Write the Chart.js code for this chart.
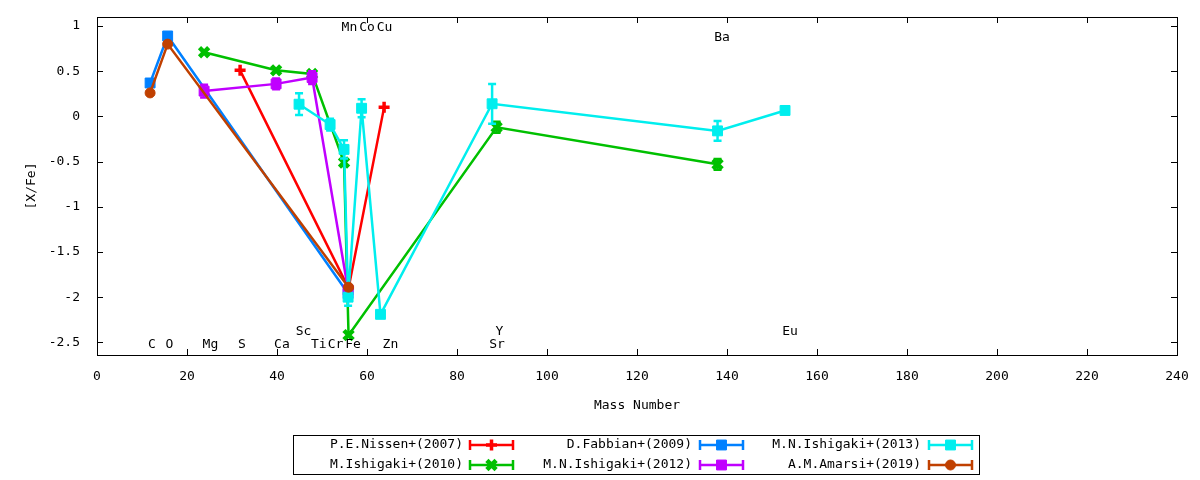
<!DOCTYPE html>
<html>
<head>
<meta charset="utf-8">
<script src="https://cdn.jsdelivr.net/npm/chart.js@4.4.0/dist/chart.umd.min.js"></script>
<style>
  html, body { margin: 0; padding: 0; background: #fff; }
  #wrap { width: 1200px; height: 480px; }
</style>
</head>
<body>
<div id="wrap"><canvas id="chart" width="1200" height="480"></canvas></div>
<script>
// mass number / [X/Fe] / error
const nissenX = [31.8, 55.9, 63.8]
const nissenY = [0.51, -1.90, 0.10]

const ishigaki10X = [23.8, 39.8, 47.8, 54.9, 55.9, 88.8, 137.9]
const ishigaki10Y = [0.71, 0.51, 0.47, -0.51, -2.42, -0.12, -0.53]
const ishigaki10Err = [0, 0, 0, 0.04, 0, 0.06, 0.06]

const fabbianX = [11.8, 15.7, 55.8]
const fabbianY = [0.37, 0.89, -1.96]

const ishigaki12X = [23.8, 39.8, 47.8, 55.8]
const ishigaki12Y = [0.28, 0.36, 0.43, -1.92]
const ishigaki12Err = [0.07, 0.06, 0.07, 0]

const ishigaki13X = [44.9, 51.8, 54.9, 55.8, 58.8, 63.0, 87.8, 137.9, 152.9]
const ishigaki13Y = [0.135, -0.09, -0.365, -2.0, 0.09, -2.19, 0.14, -0.16, 0.066]
const ishigaki13Err = [0.12, 0.065, 0.10, 0.095, 0.10, 0, 0.22, 0.11, 0]

const amarsiX = [11.8, 15.7, 55.9]
const amarsiY = [0.26, 0.80, -1.89]

// element names written inside the plot
const elemNames = ['Mn', 'Co', 'Cu', 'Ba', 'Sc', 'Y', 'Eu', 'C', 'O', 'Mg', 'S', 'Ca', 'Ti', 'Cr', 'Fe', 'Zn', 'Sr']
const elemX = [56.1, 60.0, 63.9, 138.9, 45.9, 89.4, 154.0, 12.2, 16.1, 25.2, 32.2, 41.1, 49.3, 53.0, 56.9, 65.2, 88.9]
const elemY = [0.985, 0.985, 0.985, 0.874, -2.38, -2.38, -2.38, -2.53, -2.53, -2.53, -2.53, -2.53, -2.53, -2.53, -2.53, -2.53, -2.53]

const FAMILY = "'DejaVu Sans Mono', monospace"
const FONT = "13px " + FAMILY

const pts = (xs, ys) => xs.map((x, i) => ({x: x, y: ys[i]}))

function series(label, color, xs, ys, errs, style, radius, bw, order) {
    return {
        label: label,
        data: pts(xs, ys),
        errors: errs,
        borderColor: color,
        backgroundColor: color,
        borderWidth: 2.5,
        pointStyle: style,
        pointRadius: radius,
        pointBorderWidth: bw,
        pointBackgroundColor: color,
        pointBorderColor: color,
        showLine: true,
        order: order
    }
}

const datasets = [
    series('P.E.Nissen+(2007)', '#ff0000', nissenX, nissenY, null, 'cross', 5.5, 3.5, 5),
    series('M.Ishigaki+(2010)', '#00c000', ishigaki10X, ishigaki10Y, ishigaki10Err, 'crossRot', 6.5, 4.5, 4),
    series('D.Fabbian+(2009)', '#0080ff', fabbianX, fabbianY, null, 'rect', 7, 1, 3),
    series('M.N.Ishigaki+(2012)', '#c000ff', ishigaki12X, ishigaki12Y, ishigaki12Err, 'rect', 7, 1, 2),
    series('M.N.Ishigaki+(2013)', '#00eeee', ishigaki13X, ishigaki13Y, ishigaki13Err, 'rect', 7, 1, 1),
    series('A.M.Amarsi+(2019)', '#c04000', amarsiX, amarsiY, null, 'circle', 5, 1, 0)
]

// vertical error bars with caps
const errorBars = {
    id: 'errorBars',
    afterDatasetDraw(chart, args) {
        const ds = chart.data.datasets[args.index]
        if (!ds.errors) return
        const ctx = chart.ctx
        const ys = chart.scales.y
        ctx.save()
        ctx.strokeStyle = ds.borderColor
        ctx.lineWidth = 2.5
        args.meta.data.forEach((p, i) => {
            const e = ds.errors[i]
            if (!e) return
            const v = ds.data[i].y
            const t = ys.getPixelForValue(v + e)
            const b = ys.getPixelForValue(v - e)
            ctx.beginPath()
            ctx.moveTo(p.x, t); ctx.lineTo(p.x, b)
            ctx.moveTo(p.x - 4, t); ctx.lineTo(p.x + 4, t)
            ctx.moveTo(p.x - 4, b); ctx.lineTo(p.x + 4, b)
            ctx.stroke()
        })
        ctx.restore()
    }
}

// frame, inward ticks, element names, legend box
const decorations = {
    id: 'decorations',
    afterDraw(chart) {
        const ctx = chart.ctx
        const a = chart.chartArea
        const xs = chart.scales.x, ys = chart.scales.y
        ctx.save()
        ctx.strokeStyle = '#000'
        ctx.lineWidth = 1
        ctx.strokeRect(a.left + 0.5, a.top + 0.5, a.right - a.left, a.bottom - a.top)
        ctx.beginPath()
        xs.ticks.forEach(t => {
            const px = Math.round(xs.getPixelForValue(t.value)) + 0.5
            ctx.moveTo(px, a.bottom); ctx.lineTo(px, a.bottom - 6)
            ctx.moveTo(px, a.top); ctx.lineTo(px, a.top + 6)
        })
        ys.ticks.forEach(t => {
            const py = Math.round(ys.getPixelForValue(t.value)) + 0.5
            ctx.moveTo(a.left, py); ctx.lineTo(a.left + 6, py)
            ctx.moveTo(a.right, py); ctx.lineTo(a.right - 6, py)
        })
        ctx.stroke()

        ctx.fillStyle = '#000'
        ctx.font = FONT
        ctx.textAlign = 'center'
        ctx.textBaseline = 'middle'
        elemNames.forEach((n, i) => {
            ctx.fillText(n, xs.getPixelForValue(elemX[i]), ys.getPixelForValue(elemY[i]))
        })

        // legend
        ctx.strokeRect(293.5, 435.5, 686, 39)
        const textRight = [463, 692, 921]
        const sampleLeft = [470, 700, 929]
        const rowY = [445, 465]
        chart.data.datasets.forEach((ds, k) => {
            const col = Math.floor(k / 2), row = k % 2
            const y = rowY[row]
            ctx.fillStyle = '#000'
            ctx.textAlign = 'right'
            ctx.fillText(ds.label, textRight[col], y)
            const x0 = sampleLeft[col], x1 = x0 + 43
            ctx.strokeStyle = ds.borderColor
            ctx.fillStyle = ds.borderColor
            ctx.lineWidth = 2.5
            ctx.beginPath()
            ctx.moveTo(x0, y); ctx.lineTo(x1, y)
            ctx.moveTo(x0, y - 5); ctx.lineTo(x0, y + 5)
            ctx.moveTo(x1, y - 5); ctx.lineTo(x1, y + 5)
            ctx.stroke()
            ctx.lineWidth = ds.pointBorderWidth
            Chart.helpers.drawPoint(ctx, {
                pointStyle: ds.pointStyle,
                radius: ds.pointRadius,
                borderWidth: ds.pointBorderWidth,
                rotation: 0
            }, (x0 + x1) / 2, y)
        })
        ctx.restore()
    }
}

new Chart(document.getElementById('chart'), {
    type: 'scatter',
    data: {datasets: datasets},
    options: {
        responsive: false,
        animation: false,
        devicePixelRatio: 1,
        layout: {padding: {top: 17, right: 23, bottom: 63, left: 0}},
        plugins: {legend: {display: false}, tooltip: {enabled: false}},
        scales: {
            x: {
                type: 'linear',
                min: 0,
                max: 240,
                afterFit: s => { s.height = 62 },
                ticks: {stepSize: 20, padding: 6, color: '#000', font: {family: FAMILY, size: 13}},
                grid: {display: false},
                border: {display: false},
                title: {display: true, text: 'Mass Number', color: '#000', padding: {top: 4, bottom: 4},
                    font: {family: FAMILY, size: 13}}
            },
            y: {
                type: 'linear',
                min: -2.64,
                max: 1.1,
                afterFit: s => { s.width = 97 },
                ticks: {stepSize: 0.5, includeBounds: false, padding: 9, color: '#000',
                    font: {family: FAMILY, size: 13},
                    callback: v => String(Math.round(v * 10) / 10)},
                grid: {display: false},
                border: {display: false},
                title: {display: true, text: '[X/Fe]', color: '#000', padding: {top: 24, bottom: 4},
                    font: {family: FAMILY, size: 13}}
            }
        }
    },
    plugins: [errorBars, decorations]
})
</script>
</body>
</html>
